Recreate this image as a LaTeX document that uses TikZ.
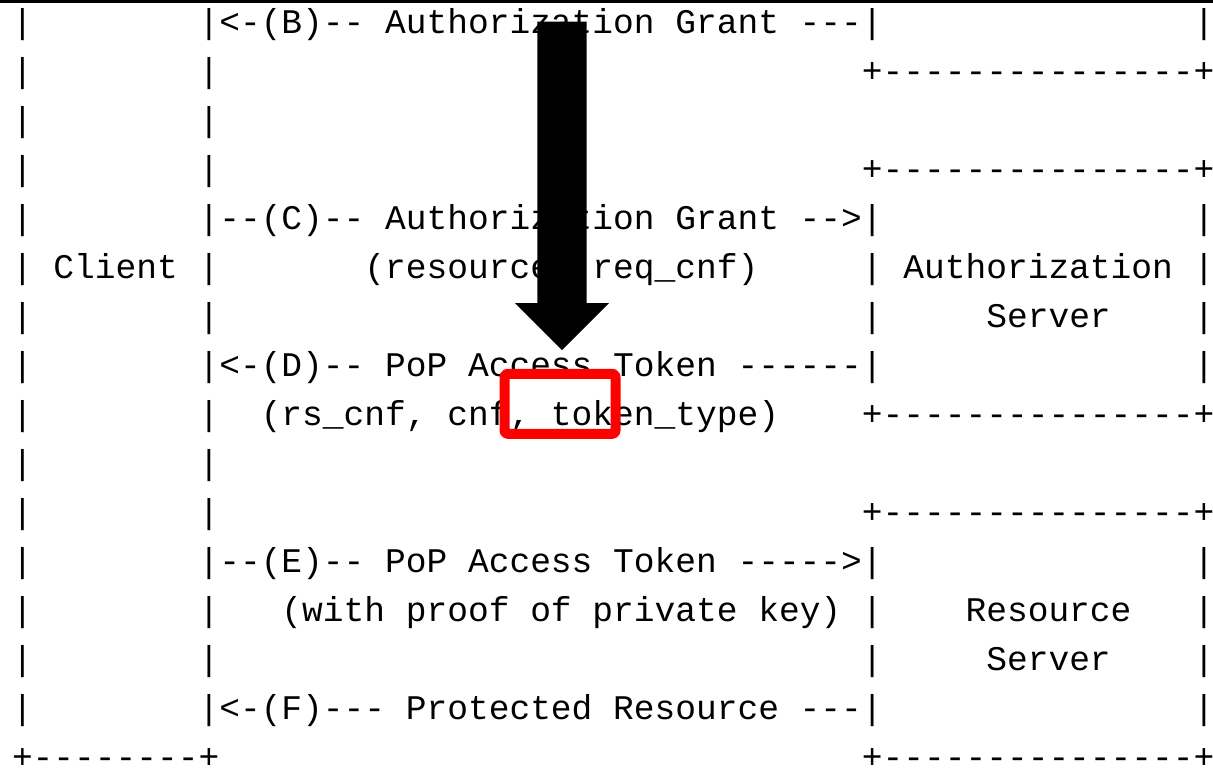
\documentclass[tikz,border=0pt]{standalone}
\usepackage{fontspec}
\newfontfamily\ascfont{Liberation Mono}
\frenchspacing
\tikzset{
  asc/.style={anchor=base west, inner sep=0pt, outer sep=0pt, font=\ascfont\fontsize{17.275pt}{20pt}\selectfont},
  bigarrow/.style={fill=black, draw=none},
  hilite/.style={draw={rgb,255:red,255;green,0;blue,0}, line width=5pt, line join=round, rounded corners=1.5pt}
}
\newcommand\asc[4]{\node[asc] (#1) at ({12.0+20.73*#2},{33+49*#3}) {#4};}
\begin{document}
\begin{tikzpicture}[x=0.5pt,y=-0.5pt]
\useasboundingbox (0,0) rectangle (1213,767);
\fill[white] (0,0) rectangle (1213,767);
\fill[black] (0,0) rectangle (1213,2.7);
% row 0
\asc{a0}{0}{0}{|}
\asc{b0}{9}{0}{|<-(B)-- Authorization Grant ---|}
\asc{c0}{57}{0}{|}
% row 1
\asc{a1}{0}{1}{|}
\asc{b1}{9}{1}{|}
\asc{c1}{41}{1}{+---------------+}
% row 2
\asc{a2}{0}{2}{|}
\asc{b2}{9}{2}{|}
% row 3
\asc{a3}{0}{3}{|}
\asc{b3}{9}{3}{|}
\asc{c3}{41}{3}{+---------------+}
% row 4
\asc{a4}{0}{4}{|}
\asc{b4}{9}{4}{|--(C)-- Authorization Grant -->|}
\asc{c4}{57}{4}{|}
% row 5
\asc{a5}{0}{5}{| Client |}
\asc{b5}{17}{5}{(resource, req\_cnf)}
\asc{c5}{41}{5}{| Authorization |}
% row 6
\asc{a6}{0}{6}{|}
\asc{b6}{9}{6}{|}
\asc{c6}{41}{6}{|}
\asc{d6}{47}{6}{Server}
\asc{e6}{57}{6}{|}
% row 7
\asc{a7}{0}{7}{|}
\asc{b7}{9}{7}{|<-(D)-- PoP Access Token ------|}
\asc{c7}{57}{7}{|}
% row 8
\asc{a8}{0}{8}{|}
\asc{b8}{9}{8}{|}
\asc{d8}{12}{8}{(rs\_cnf, cnf, token\_type)}
\asc{c8}{41}{8}{+---------------+}
% row 9
\asc{a9}{0}{9}{|}
\asc{b9}{9}{9}{|}
% row 10
\asc{a10}{0}{10}{|}
\asc{b10}{9}{10}{|}
\asc{c10}{41}{10}{+---------------+}
% row 11
\asc{a11}{0}{11}{|}
\asc{b11}{9}{11}{|--(E)-- PoP Access Token ----->|}
\asc{c11}{57}{11}{|}
% row 12
\asc{a12}{0}{12}{|}
\asc{b12}{9}{12}{|}
\asc{d12}{13}{12}{(with proof of private key)}
\asc{c12}{41}{12}{|}
\asc{e12}{46}{12}{Resource}
\asc{f12}{57}{12}{|}
% row 13
\asc{a13}{0}{13}{|}
\asc{b13}{9}{13}{|}
\asc{c13}{41}{13}{|}
\asc{d13}{47}{13}{Server}
\asc{e13}{57}{13}{|}
% row 14
\asc{a14}{0}{14}{|}
\asc{b14}{9}{14}{|<-(F)--- Protected Resource ---|}
\asc{c14}{57}{14}{|}
% row 15
\asc{a15}{0}{15}{+--------+}
\asc{c15}{41}{15}{+---------------+}
% overlay arrow
\fill[bigarrow] (537.3,21.7) -- (586.7,21.7) -- (586.7,303) -- (609,303) -- (562,350) -- (515,303) -- (537.3,303) -- cycle;
% highlight box
\draw[hilite] (504.5,373.8) rectangle (615.5,433.8);
\end{tikzpicture}
\end{document}
